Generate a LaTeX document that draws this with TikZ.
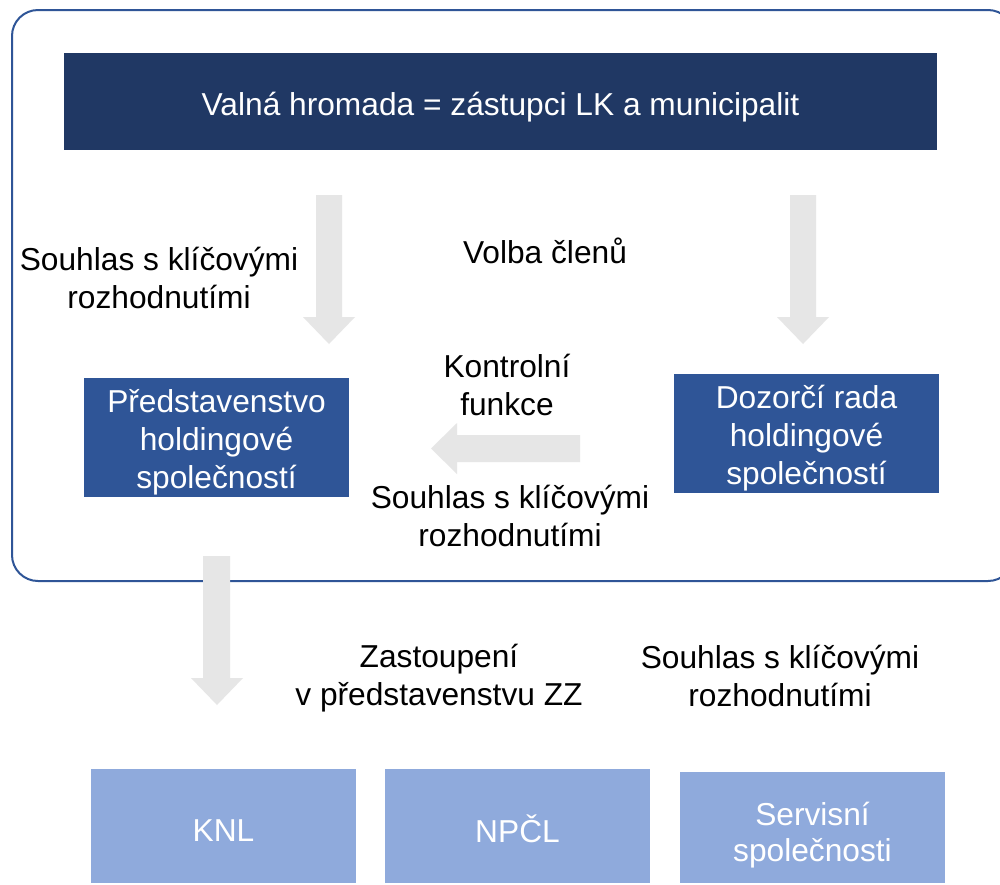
\documentclass[tikz,border=0pt]{standalone}
\usepackage{fontspec}
\setmainfont{Liberation Sans}
\definecolor{navy}{HTML}{203864}
\definecolor{midblue}{HTML}{2F5597}
\definecolor{lightblue}{HTML}{8FAADC}
\definecolor{arrowgray}{HTML}{E6E6E6}
\begin{document}
\begin{tikzpicture}[x=1pt,y=-1pt,
  txt/.style={font=\fontsize{31.7}{37.5}\selectfont, align=center, inner sep=0pt, text=black},
  boxtxt/.style={font=\fontsize{31.7}{38}\selectfont, align=center, inner sep=0pt, text=white},
  darkbox/.style={fill=navy, inner sep=0pt, minimum width=873pt, minimum height=97pt},
  midbox/.style={fill=midblue, inner sep=0pt, minimum width=265pt, minimum height=119pt},
  lightbox/.style={fill=lightblue, inner sep=0pt, minimum width=265pt, minimum height=114pt},
  blockarrow/.style={fill=arrowgray, draw=none}]
\useasboundingbox (0,0) rectangle (1000,884);
\fill[white] (0,0) rectangle (1000,884);
% outer frame
\draw[midblue, line width=2pt, rounded corners=26pt] (12,10) rectangle (1014,581);
% block arrows
\fill[blockarrow] (316,195) -- (342,195) -- (342,317) -- (355,317) -- (329,344) -- (303,317) -- (316,317) -- cycle;
\fill[blockarrow] (790,195) -- (816,195) -- (816,317) -- (829,317) -- (803,344) -- (777,317) -- (790,317) -- cycle;
\fill[blockarrow] (580,435) -- (580,462) -- (457,462) -- (457,474) -- (431,448.5) -- (457,423) -- (457,435) -- cycle;
\fill[blockarrow] (203,556) -- (230,556) -- (230,678) -- (243,678) -- (217,705) -- (191,678) -- (203,678) -- cycle;
% boxes
\node[darkbox] (vh) at (500.5,101.5) {};
\node[midbox] (pr) at (216.5,437.5) {};
\node[midbox] (dr) at (806.5,433.5) {};
\node[lightbox] (knl) at (223.5,826) {};
\node[lightbox] (npcl) at (517.5,826) {};
\node[lightbox, minimum height=111pt] (ss) at (812.5,827.5) {};
% box texts
\node[boxtxt] (vht) at (500.5,107.5) {Valná hromada = zástupci LK a municipalit};
\node[boxtxt] (prt) at (216.5,442.5) {Představenstvo\\holdingové\\společností};
\node[boxtxt] (drt) at (806.5,438.5) {Dozorčí rada\\holdingové\\společností};
\node[boxtxt] (knlt) at (223.5,831) {KNL};
\node[boxtxt] (npclt) at (517.5,828.5) {NPČL};
\node[boxtxt, font=\fontsize{31.7}{36}\selectfont] (sst) at (812.5,835) {Servisní\\společnosti};
% labels
\node[txt] (l1) at (159,278) {Souhlas s klíčovými\\rozhodnutími};
\node[txt] (l2) at (545,251) {Volba členů};
\node[txt] (l3) at (507,385) {Kontrolní\\funkce};
\node[txt] (l4) at (510,516) {Souhlas s klíčovými\\rozhodnutími};
\node[txt] (l5) at (439,678) {Zastoupení\\v představenstvu ZZ};
\node[txt] (l6) at (780,676) {Souhlas s klíčovými\\rozhodnutími};
\end{tikzpicture}
\end{document}
